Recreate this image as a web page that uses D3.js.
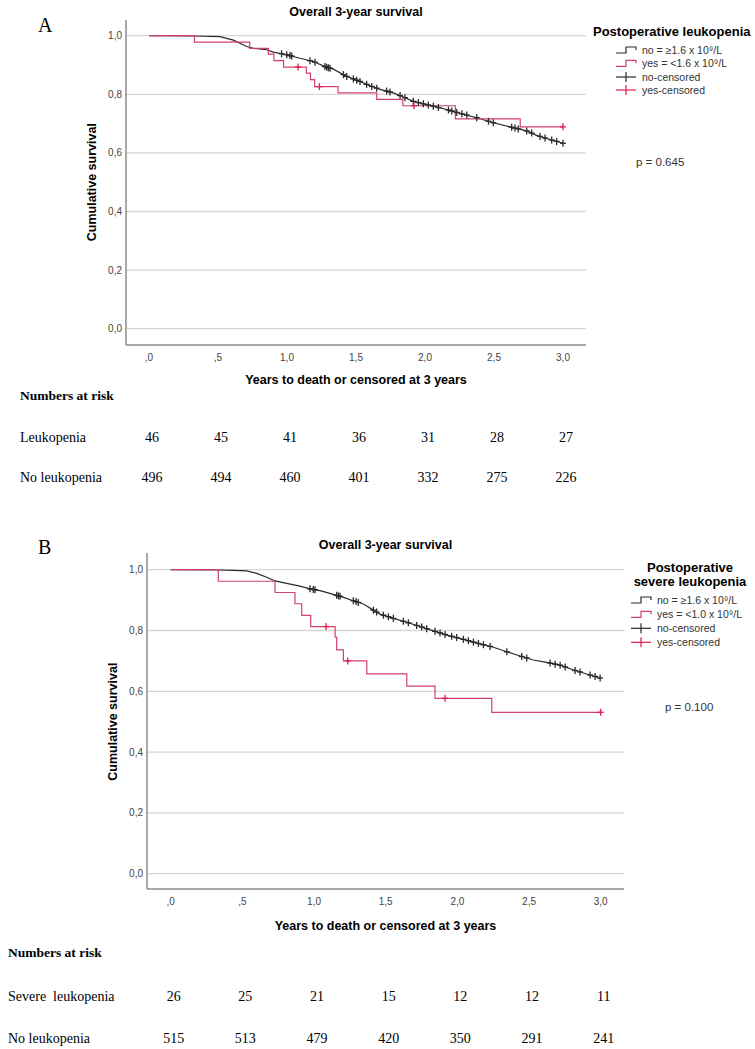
<!DOCTYPE html>
<html>
<head>
<meta charset="utf-8">
<script src="https://cdn.jsdelivr.net/npm/d3@7"></script>
<style>
  body { margin: 0; background: #fff; }
  svg { display: block; }
</style>
</head>
<body>
<svg id="svg" width="755" height="1049"></svg>
<script>
// shared axis ticks
const xTicks = [0, 0.5, 1, 1.5, 2, 2.5, 3];
const xTickLabels = [",0", ",5", "1,0", "1,5", "2,0", "2,5", "3,0"];
const yTicks = [0, 0.2, 0.4, 0.6, 0.8, 1];
const yTickLabels = ["0,0", "0,2", "0,4", "0,6", "0,8", "1,0"];

// panel A - postoperative leukopenia
const aNoTime = [0, 0.33, 0.515, 0.611, 0.708, 0.756, 0.853, 0.901, 0.998, 1.094, 1.191, 1.288, 1.336, 1.433, 1.529, 1.601, 1.674, 1.770, 1.843, 1.915, 2.036, 2.157, 2.254, 2.375, 2.495, 2.640, 2.737, 2.809, 2.882, 3.0];
const aNoSurv = [1, 0.999, 0.997, 0.985, 0.963, 0.957, 0.952, 0.944, 0.935, 0.923, 0.912, 0.892, 0.886, 0.861, 0.844, 0.829, 0.817, 0.805, 0.791, 0.776, 0.762, 0.748, 0.735, 0.720, 0.703, 0.686, 0.675, 0.660, 0.649, 0.633];
const aNoCensored = [0.961, 0.998, 1.022, 1.034, 1.167, 1.203, 1.275, 1.288, 1.300, 1.312, 1.409, 1.433, 1.481, 1.505, 1.529, 1.577, 1.614, 1.650, 1.722, 1.746, 1.819, 1.855, 1.915, 1.952, 1.988, 2.024, 2.060, 2.097, 2.170, 2.194, 2.230, 2.267, 2.303, 2.375, 2.460, 2.495, 2.628, 2.652, 2.676, 2.737, 2.773, 2.833, 2.870, 2.918, 2.954, 3.0];
const aYesTime = [0, 0.33, 0.73, 0.865, 0.905, 0.975, 1.14, 1.17, 1.20, 1.37, 1.65, 1.84, 2.22, 2.69];
const aYesSurv = [1, 0.978, 0.957, 0.937, 0.915, 0.893, 0.872, 0.850, 0.826, 0.805, 0.783, 0.761, 0.716, 0.689];
const aYesCensored = [1.08, 1.235, 1.92, 3.0];
const aLegendTitle = ["Postoperative leukopenia"];
const aLegendItems = ["no = \u22651.6 x 10\u2079/L", "yes = <1.6 x 10\u2079/L", "no-censored", "yes-censored"];
const aRiskLabels = ["Leukopenia", "No leukopenia"];
const aRiskYes = [46, 45, 41, 36, 31, 28, 27];
const aRiskNo = [496, 494, 460, 401, 332, 275, 226];

// panel B - postoperative severe leukopenia
const bNoTime = [0, 0.332, 0.437, 0.530, 0.600, 0.670, 0.728, 0.809, 0.902, 0.972, 1.042, 1.135, 1.205, 1.274, 1.344, 1.414, 1.461, 1.553, 1.647, 1.740, 1.833, 1.926, 2.042, 2.158, 2.251, 2.345, 2.438, 2.530, 2.624, 2.717, 2.810, 2.903, 3.0];
const bNoSurv = [1, 0.999, 0.998, 0.996, 0.988, 0.975, 0.963, 0.955, 0.946, 0.937, 0.931, 0.919, 0.909, 0.898, 0.887, 0.867, 0.854, 0.840, 0.827, 0.813, 0.799, 0.785, 0.771, 0.756, 0.745, 0.730, 0.716, 0.703, 0.695, 0.686, 0.670, 0.657, 0.643];
const bNoCensored = [0.972, 0.995, 1.007, 1.158, 1.170, 1.181, 1.274, 1.293, 1.309, 1.414, 1.437, 1.484, 1.519, 1.553, 1.623, 1.658, 1.716, 1.751, 1.786, 1.844, 1.879, 1.914, 1.960, 1.995, 2.042, 2.077, 2.112, 2.147, 2.182, 2.228, 2.345, 2.449, 2.484, 2.647, 2.682, 2.717, 2.752, 2.821, 2.856, 2.926, 2.961, 2.996];
const bYesTime = [0, 0.332, 0.728, 0.867, 0.914, 0.977, 1.147, 1.158, 1.205, 1.368, 1.647, 1.844, 2.24];
const bYesSurv = [1, 0.962, 0.925, 0.888, 0.850, 0.813, 0.778, 0.736, 0.700, 0.657, 0.617, 0.577, 0.531];
const bYesCensored = [1.084, 1.235, 1.914, 3.0];
const bLegendTitle = ["Postoperative", "severe leukopenia"];
const bLegendItems = ["no = \u22651.6 x 10\u2079/L", "yes = <1.0 x 10\u2079/L", "no-censored", "yes-censored"];
const bRiskLabels = ["Severe  leukopenia", "No leukopenia"];
const bRiskYes = [26, 25, 21, 15, 12, 12, 11];
const bRiskNo = [515, 513, 479, 420, 350, 291, 241];

const black = "#2a2a2a";
const red = "#d2416b";
const redMark = "#e31a4d";
const sans = "'Liberation Sans', Arial, sans-serif";
const serif = "'Liberation Serif', 'Times New Roman', serif";

const svg = d3.select("#svg");

function drawPanel(p) {
    const g = svg.append("g");
    const x = d3.scaleLinear().domain([0, 3]).range([p.x0, p.x3]);
    const y = d3.scaleLinear().domain([0, 1]).range([p.y0, p.y1]);

    // panel letter
    g.append("text").attr("x", p.letterX).attr("y", p.letterY)
        .style("font-family", serif).style("font-size", "20px").text(p.letter);

    // chart title
    g.append("text").attr("x", (p.left + p.right) / 2).attr("y", p.top - 4)
        .attr("text-anchor", "middle")
        .style("font-family", sans).style("font-size", "12.5px").style("font-weight", "bold")
        .text("Overall 3-year survival");

    // grid lines
    g.selectAll(".grid").data(yTicks).join("line")
        .attr("x1", p.left).attr("x2", p.right)
        .attr("y1", d => y(d)).attr("y2", d => y(d))
        .style("stroke", "#d6d6d6").style("stroke-width", 1.3);

    // axes frame
    g.append("line").attr("x1", p.left).attr("x2", p.left).attr("y1", p.top).attr("y2", p.bottom)
        .style("stroke", "#8c8c8c").style("stroke-width", 1.5);
    g.append("line").attr("x1", p.left).attr("x2", p.right).attr("y1", p.bottom).attr("y2", p.bottom)
        .style("stroke", "#8c8c8c").style("stroke-width", 1.5);

    // tick labels
    g.selectAll(".ylab").data(yTicks).join("text")
        .attr("x", p.left - 4).attr("y", d => y(d)).attr("dy", "0.35em")
        .attr("text-anchor", "end")
        .style("font-family", sans).style("font-size", "10px").style("fill", "#444")
        .text((d, i) => yTickLabels[i]);
    g.selectAll(".xlab").data(xTicks).join("text")
        .attr("x", d => x(d)).attr("y", p.bottom + 12).attr("dy", "0.35em")
        .attr("text-anchor", "middle")
        .style("font-family", sans).style("font-size", "10px").style("fill", "#444")
        .text((d, i) => xTickLabels[i]);

    // axis titles
    g.append("text").attr("x", (p.left + p.right) / 2).attr("y", p.bottom + p.xTitleOff).attr("dy", "0.35em")
        .attr("text-anchor", "middle")
        .style("font-family", sans).style("font-size", "12.5px").style("font-weight", "bold")
        .text("Years to death or censored at 3 years");
    g.append("text")
        .attr("transform", `translate(${p.left - 34},${(y(0) + y(1)) / 2}) rotate(-90)`)
        .attr("text-anchor", "middle").attr("dy", "0.35em")
        .style("font-family", sans).style("font-size", "12.5px").style("font-weight", "bold")
        .text("Cumulative survival");

    // curves
    const noPts = p.noTime.map((t, i) => [t, p.noSurv[i]]);
    const yesPts = p.yesTime.map((t, i) => [t, p.yesSurv[i]]);
    yesPts.push([d3.max(p.yesCensored), p.yesSurv[p.yesSurv.length - 1]]);

    g.append("path").datum(noPts)
        .attr("d", d3.line().x(d => x(d[0])).y(d => y(d[1])).curve(d3.curveLinear))
        .style("fill", "none").style("stroke", black).style("stroke-width", 1.2);
    g.append("path").datum(yesPts)
        .attr("d", d3.line().x(d => x(d[0])).y(d => y(d[1])).curve(d3.curveStepAfter))
        .style("fill", "none").style("stroke", red).style("stroke-width", 1.2);

    // censor marks
    const noAt = d3.scaleLinear().domain(p.noTime).range(p.noSurv);
    const yesAt = t => p.yesSurv[d3.bisectRight(p.yesTime, t) - 1];
    function marks(times, f, color) {
        const m = g.append("g").selectAll("g").data(times).join("g")
            .attr("transform", t => `translate(${x(t)},${y(f(t))})`);
        m.append("line").attr("y1", -3.5).attr("y2", 3.5)
            .style("stroke", color).style("stroke-width", 1.3);
        m.append("line").attr("x1", -3).attr("x2", 3)
            .style("stroke", color).style("stroke-width", 1.3);
    }
    marks(p.noCensored, noAt, black);
    marks(p.yesCensored, yesAt, redMark);

    // legend
    const lg = g.append("g");
    lg.selectAll(".lt").data(p.legendTitle).join("text")
        .attr("x", p.legTitleX).attr("y", (d, i) => p.legTitleY + i * 14.3).attr("dy", "0.35em")
        .attr("text-anchor", p.legTitleAnchor)
        .style("font-family", sans).style("font-size", "13px").style("font-weight", "bold")
        .text(d => d);
    const colors = [black, red, black, redMark];
    p.legendItems.forEach((txt, i) => {
        const ly = p.legY[i];
        const sx = p.legSymX;
        if (i < 2) {
            lg.append("path")
                .attr("d", `M${sx},${ly + 3}H${sx + 10}V${ly - 3}H${sx + 20}V${ly}`)
                .style("fill", "none").style("stroke", colors[i]).style("stroke-width", 1.2);
        } else {
            lg.append("line").attr("x1", sx).attr("x2", sx + 20).attr("y1", ly).attr("y2", ly)
                .style("stroke", colors[i]).style("stroke-width", 1.2);
            lg.append("line").attr("x1", sx + 10).attr("x2", sx + 10).attr("y1", ly - 5).attr("y2", ly + 5)
                .style("stroke", colors[i]).style("stroke-width", 1.2);
        }
        lg.append("text").attr("x", sx + 26).attr("y", ly).attr("dy", "0.35em")
            .style("font-family", sans).style("font-size", "10.5px").style("fill", "#333")
            .text(txt);
    });

    // p value
    g.append("text").attr("x", p.pX).attr("y", p.pY).attr("dy", "0.35em")
        .style("font-family", sans).style("font-size", "11.5px").style("fill", "#333")
        .text(p.pText);

    // numbers at risk
    g.append("text").attr("x", p.riskX).attr("y", p.riskTitleY).attr("dy", "0.35em")
        .style("font-family", serif).style("font-size", "13.5px").style("font-weight", "bold")
        .text("Numbers at risk");
    const rows = [p.riskYes, p.riskNo];
    rows.forEach((vals, r) => {
        const ry = p.riskRowY[r];
        g.append("text").attr("x", p.riskX).attr("y", ry).attr("dy", "0.35em")
            .style("font-family", serif).style("font-size", "14px").style("white-space", "pre")
            .text(p.riskLabels[r]);
        g.selectAll(null).data(vals).join("text")
            .attr("x", (d, i) => x(xTicks[i]) + 3).attr("y", ry).attr("dy", "0.35em")
            .attr("text-anchor", "middle")
            .style("font-family", serif).style("font-size", "14px")
            .text(d => d);
    });
}

drawPanel({
    letter: "A", letterX: 38, letterY: 32,
    left: 126, right: 586, top: 20, bottom: 345,
    x0: 149, x3: 563, y0: 328.7, y1: 35.7,
    xTitleOff: 35,
    noTime: aNoTime, noSurv: aNoSurv, noCensored: aNoCensored,
    yesTime: aYesTime, yesSurv: aYesSurv, yesCensored: aYesCensored,
    legendTitle: aLegendTitle, legTitleX: 593, legTitleY: 31, legTitleAnchor: "start",
    legendItems: aLegendItems, legSymX: 616, legY: [50, 63.3, 77, 90],
    pX: 636, pY: 162, pText: "p = 0.645",
    riskX: 20, riskTitleY: 395, riskRowY: [437, 477],
    riskLabels: aRiskLabels, riskYes: aRiskYes, riskNo: aRiskNo
});

drawPanel({
    letter: "B", letterX: 38, letterY: 554,
    left: 147, right: 624, top: 553, bottom: 889,
    x0: 170.7, x3: 600.7, y0: 873.7, y1: 569.7,
    xTitleOff: 37,
    noTime: bNoTime, noSurv: bNoSurv, noCensored: bNoCensored,
    yesTime: bYesTime, yesSurv: bYesSurv, yesCensored: bYesCensored,
    legendTitle: bLegendTitle, legTitleX: 690, legTitleY: 567, legTitleAnchor: "middle",
    legendItems: bLegendItems, legSymX: 631, legY: [600, 614.3, 628.3, 642.3],
    pX: 665, pY: 707, pText: "p = 0.100",
    riskX: 8, riskTitleY: 952, riskRowY: [996, 1038],
    riskLabels: bRiskLabels, riskYes: bRiskYes, riskNo: bRiskNo
});
</script>
</body>
</html>
